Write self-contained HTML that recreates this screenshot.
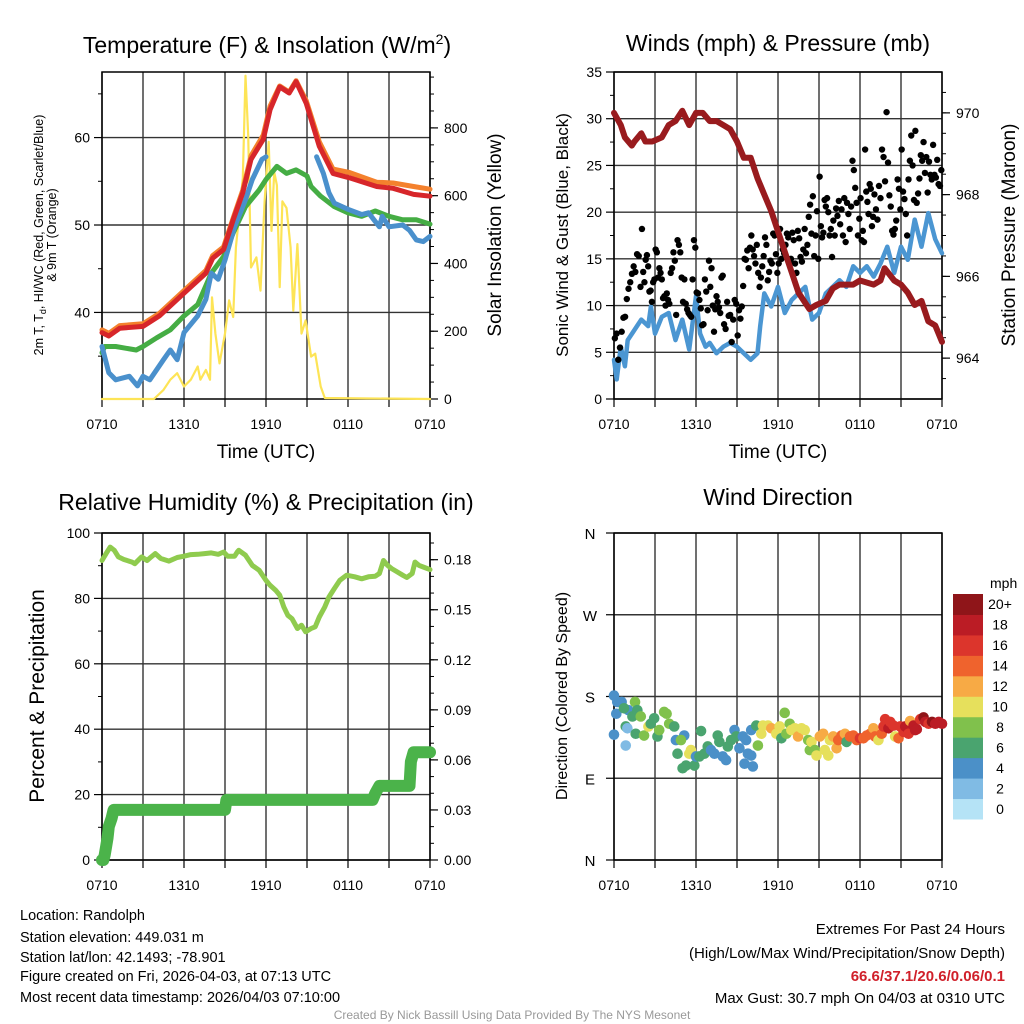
<!DOCTYPE html>
<html><head><meta charset="utf-8"><style>
html,body{margin:0;padding:0;background:#fff;}
svg{display:block;font-family:"Liberation Sans",Arial,sans-serif;}
</style></head><body>
<svg id="c" width="1024" height="1024" viewBox="0 0 1024 1024" xmlns="http://www.w3.org/2000/svg">
<text x="267" y="53" font-size="23" text-anchor="middle">Temperature (F) &amp; Insolation (W/m<tspan font-size="14" dy="-9">2</tspan><tspan dy="9">)</tspan></text>
<text x="778" y="51" font-size="23" text-anchor="middle">Winds (mph) &amp; Pressure (mb)</text>
<text x="266" y="510" font-size="23" text-anchor="middle">Relative Humidity (%) &amp; Precipitation (in)</text>
<text x="778" y="505" font-size="23" text-anchor="middle">Wind Direction</text>
<text x="266" y="458" font-size="19" text-anchor="middle">Time (UTC)</text>
<text x="778" y="458" font-size="19" text-anchor="middle">Time (UTC)</text>
<text transform="translate(43,235) rotate(-90)" font-size="12.5" text-anchor="middle">2m T, T<tspan font-size="9" dy="3">d</tspan><tspan dy="-3">, HI/WC (Red, Green, Scarlet/Blue)</tspan></text>
<text transform="translate(56,235) rotate(-90)" font-size="12.5" text-anchor="middle">&amp; 9m T (Orange)</text>
<text transform="translate(501,235) rotate(-90)" font-size="19" text-anchor="middle">Solar Insolation (Yellow)</text>
<text transform="translate(568,235) rotate(-90)" font-size="17" text-anchor="middle">Sonic Wind &amp; Gust (Blue, Black)</text>
<text transform="translate(1015,235) rotate(-90)" font-size="19" text-anchor="middle">Station Pressure (Maroon)</text>
<text transform="translate(44,696) rotate(-90)" font-size="21" text-anchor="middle">Percent &amp; Precipitation</text>
<text transform="translate(567,696) rotate(-90)" font-size="16" text-anchor="middle">Direction (Colored By Speed)</text>
<g font-size="14.5">
<text x="20" y="920">Location: Randolph</text>
<text x="20" y="942">Station elevation: 449.031 m</text>
<text x="20" y="962">Station lat/lon: 42.1493; -78.901</text>
<text x="20" y="981">Figure created on Fri, 2026-04-03, at 07:13 UTC</text>
<text x="20" y="1002">Most recent data timestamp: 2026/04/03 07:10:00</text>
</g>
<g font-size="15" text-anchor="end">
<text x="1005" y="934">Extremes For Past 24 Hours</text>
<text x="1005" y="958">(High/Low/Max Wind/Precipitation/Snow Depth)</text>
<text x="1005" y="981" fill="#d0202a" font-weight="bold">66.6/37.1/20.6/0.06/0.1</text>
<text x="1005" y="1003">Max Gust: 30.7 mph On 04/03 at 0310 UTC</text>
</g>
<text x="512" y="1019" font-size="12" fill="#999" text-anchor="middle">Created By Nick Bassill Using Data Provided By The NYS Mesonet</text>
<text x="990" y="588" font-size="14">mph</text>
</svg>
<script>
// ---------- DATA ----------
const xTickLabels = ["0710","1310","1910","0110","0710"];
const tempHours = [0,0.5,1.3,3,4.2,6,7.6,8.1,8.9,9.6,10.3,10.9,11.8,12.3,13,13.7,14.2,14.95,15.9,16.9,18.1,20.1,21.3,22.8,24];
const temp2m = [37.7,37.3,38.2,38.4,39.6,42.2,44.5,46.2,47.2,50.6,53.7,57.5,59.8,63.2,65.8,65.1,66.4,63.9,59.0,55.9,55.4,54.4,54.2,53.5,53.3];
const temp9m = [38.0,37.6,38.5,38.7,39.9,42.5,44.8,46.5,47.5,50.8,54.0,57.9,60.3,63.6,65.9,65.2,66.5,64.2,59.5,56.4,56.0,54.9,54.8,54.4,54.1];
const tdHours = [0,0.2,1,2.5,3,4,5,6,7,8,8.9,9.6,10.5,11.5,12,12.8,13.5,14.2,15,15.3,16,17,18,19,20,21,22,23,24];
const tdVals = [35.4,36.1,36.1,35.7,36.1,37.1,38.0,39.6,40.9,44.5,46.4,49.1,52.1,54.0,55.2,56.7,55.9,56.3,55.6,54.4,53.3,52.1,51.4,51.0,51.6,51.0,50.6,50.6,50.1];
const wcHours = [0,0.5,1,2,2.6,3,3.5,4.5,5,5.5,6,7,7.6,8,8.5,9,9.7,10.5,11,11.7,12,null,15.7,16.2,16.6,17,18,19,19.5,20.3,20.5,21,22,22.5,23,23.5,24];
const wcVals = [36.1,33.1,32.3,32.7,31.6,32.7,32.3,34.6,35.7,34.6,37.7,39.6,41.5,44.5,43.8,46.0,49.8,52.9,55.2,57.5,57.8,null,57.8,55.9,53.7,52.5,51.8,51.2,51.4,49.8,51.0,49.8,50.0,49.4,48.3,48.1,48.7];
const solarHours = [0,3.8,4.5,5,5.5,6,6.5,7,7.2,7.6,7.9,8.05,8.3,8.6,9,9.3,9.6,9.8,10.3,10.5,10.7,10.9,11.3,11.6,11.9,12.2,12.4,12.6,12.8,13,13.2,13.5,13.8,14,14.3,14.6,14.9,15.3,15.6,16,16.3,24];
const solarVals = [0,0,27,57,76,37,57,96,57,86,57,300,193,105,193,291,242,447,652,954,778,388,418,320,583,759,496,670,631,330,583,564,447,261,457,193,232,125,134,37,3,0];
const windHours = [0,0.2,0.5,0.8,1,1.5,2,2.5,2.7,3,3.5,4,4.5,5,5.5,6,6.3,6.7,7,7.5,8,8.5,9,9.5,10,10.5,10.7,11,11.5,12,12.5,13,13.5,14,14.5,15,15.5,16,16.5,17,17.5,18,18.5,19,19.5,20,20.5,21,21.5,22,22.5,23,23.5,24];
const windVals = [4.2,2.1,5.6,3.5,6.3,7.4,8.5,7.8,9.9,7.0,8.8,9.2,6.3,8.5,5.3,11.0,7.0,5.6,6.0,4.9,5.6,6.0,5.6,4.9,4.2,4.9,7.8,11.3,9.9,12.0,9.2,10.6,11.3,12.0,8.5,9.2,11.3,12.0,12.7,12.0,14.2,13.5,14.2,13.1,14.5,16.3,13.5,16.3,14.9,19.2,16.3,19.9,17.1,15.6];
const presHours = [0,0.5,0.8,1.3,1.5,2,2.3,2.8,3.5,4,4.5,5,5.5,6,6.5,7,7.5,8,8.5,9,9.5,10,10.5,11,11.5,12,12.5,13,13.5,14.3,14.8,15.5,16,16.5,17.5,18,19,19.5,19.8,20.5,21,21.5,22,22.5,23,23.5,24];
const presVals = [970.0,969.7,969.4,969.2,969.3,969.5,969.3,969.3,969.4,969.7,969.8,970.05,969.7,970.0,970.0,969.8,969.8,969.7,969.6,969.3,968.9,968.9,968.4,968.0,967.6,967.1,966.6,966.1,965.6,965.2,965.3,965.4,965.7,965.8,965.8,965.9,965.8,965.9,966.2,965.9,965.8,965.6,965.3,965.4,964.9,964.8,964.4];
const gustByHour = [
[6.5,7.0,4.2,5.5,7.2,8.7,8.8,10.7],
[11.8,12.5,13.4,14.2,13.6,15.5,15.3,12.0],
[18.2,13.6,12.5,14.9,15.4,14.2,11.5,11.6,10.4,12.5,12.8],
[16.0,15.7,13.0,14.0,13.5,12.8,10.8,11.0,10.0,11.3,10.6],
[10.2,13.5,14.0,15.7,14.8,9.0,17.0,16.5,15.7,13.0],
[10.4,12.8,10.2,9.6,9.2,9.0,8.8,12.8,17.0,16.2],
[11.4,11.3,10.6,9.7,7.9,8.0,12.8,11.5,9.5,14.8],
[12.0,14.0,10.0,7.2,9.6,11.0,10.4,9.8,9.2,13.0,13.2],
[8.0,7.5,10.4,8.9,9.0,6.1,8.5,10.6,10.2],
[6.8,9.5,8.6,9.9,12.1,15.0,14.9,15.9,14.0,16.2],
[17.5,16.0,15.3,14.5,16.5,13.5,12.0,13.0,14.2,15.3],
[17.3,16.5,12.7,13.6,14.8,14.5,17.7,17.5,15.5,13.5],
[14.5,18.2,15.0,16.0,15.6,16.5,17.7,17.3,14.7,15.0],
[17.8,17.0,14.5,13.5,18.0,17.2,15.2,14.7,16.0,18.2],
[15.6,16.5,19.5,20.8,17.7,21.7,15.3,17.5,20.1,15.0],
[23.8,18.5,17.3,17.8,21.3,20.6,21.5,20.0,17.5,18.2,15.2],
[19.1,17.5,20.4,19.6,21.2,18.7,20.3,17.5,21.5,16.8],
[21.0,19.8,18.2,20.6,25.5,24.5,22.6,21.0,17.5,19.3],
[21.5,17.0,18.0,16.8,26.7,22.2,21.1,19.8,23.0,22.5,18.5,19.5],
[21.9,20.3,19.2,22.8,21.5,26.7,25.9,23.3,30.7],
[25.3,21.8,20.6,18.0,17.6,18.2,19.1,23.5,22.5,20.3],
[26.7,22.2,21.4,19.8,17.5,23.5,25.5,28.2,25.0,21.3],
[28.7,21.0,22.0,23.6,26.1,25.5,27.5,24.2,25.9,22.1],
[25.4,24.0,23.5,27.2,24.0,23.7,25.6,23.0,22.8,24.5]];
const rhHours = [0,0.3,0.6,0.9,1.2,1.6,2.2,2.4,2.9,3.3,3.6,3.9,4.3,4.9,5.5,6,6.5,7,7.5,8,8.5,8.9,9.2,9.7,9.9,10,10.5,11,11.5,12,12.3,12.7,13,13.3,13.6,13.9,14.3,14.6,14.9,15.3,15.6,15.9,16.3,16.6,17,17.4,17.9,18.5,19,19.5,20,20.3,20.6,20.9,21.2,21.6,22,22.3,22.7,22.9,23.2,23.5,24];
const rhVals = [91.6,93.7,95.7,94.7,92.7,91.9,91.1,90.6,92.7,91.6,92.7,93.7,92.2,91.4,92.5,92.9,93.4,93.5,93.7,93.9,93.5,94.2,92.9,92.9,94.2,94.7,93.2,90.1,88.6,85.5,84.0,82.5,81.0,77.4,74.8,73.8,70.8,71.8,69.8,70.8,71.3,74.3,77.4,80.4,83.0,85.5,87.1,86.6,86.0,86.6,86.8,87.6,91.6,90.1,89.1,88.1,87.1,86.4,87.6,91.1,90.1,89.6,88.8];
const precipHours = [0,0.1,0.2,0.3,0.4,0.5,0.7,0.85,9.0,9.1,19.8,20.0,20.3,22.5,22.6,22.8,24];
const precipVals = [0,0,0.003,0.008,0.013,0.02,0.025,0.03,0.03,0.036,0.036,0.04,0.0444,0.0444,0.059,0.0646,0.0646];
const dirHours = [0,0.24,0.56,0.17,1.05,0.73,1.35,1.54,1.71,1.96,0.86,0.98,0,0.86,1.59,2.2,2.52,2.69,2.94,3.18,3.31,3.67,3.85,4.04,4.41,4.53,5.14,4.65,4.9,5.02,5.27,5.63,5.51,5.88,6.0,6.37,6.25,6.61,6.86,7.1,7.35,7.59,7.71,7.96,8.2,8.33,8.57,8.82,8.94,9.18,9.43,9.55,9.67,9.8,10.04,10.16,10.04,10.41,10.53,10.78,10.9,11.27,11.51,11.88,12.12,12.25,12.49,12.61,12.86,12.98,13.23,13.47,13.72,13.96,14.21,14.33,14.45,14.7,14.82,15.06,15.31,15.43,15.68,15.8,16.04,16.29,16.41,16.65,16.9,17.02,17.27,17.51,17.76,18.0,18.25,18.49,18.74,18.98,19.1,19.35,19.59,19.72,19.84,20.08,20.21,20.45,20.57,20.82,20.94,21.19,21.31,21.55,21.67,21.92,22.04,22.16,22.41,22.65,22.78,23.02,23.27,23.51,23.76,24.0];
const dirDegs = [181,174,174,161,165,167,158,174,165,158,147,145,138,126,139,137,147,150,156,136,143,163,161,150,147,132,137,117,132,101,104,121,117,104,114,142,114,117,125,121,117,137,130,114,110,125,132,143,136,123,136,106,132,117,115,103,143,148,126,139,148,148,145,139,147,134,162,139,150,143,145,136,145,143,132,121,130,121,115,136,139,121,115,132,136,123,132,137,139,130,136,137,132,134,134,137,139,145,136,132,139,147,155,145,152,148,136,134,147,141,147,139,153,148,143,144,155,157,152,150,152,150,152,150];
const dirSpeeds = [4,4,4,4,4,6,6,8,6,8,6,2,4,2,6,8,10,6,6,6,8,8,8,8,6,4,4,6,8,6,6,10,10,6,4,6,6,6,6,4,4,6,6,4,4,6,6,4,6,4,4,4,4,4,4,4,4,6,8,10,10,10,12,10,10,6,8,8,8,10,10,12,10,10,8,8,10,8,10,12,12,10,10,10,12,12,14,14,12,6,14,14,14,16,14,14,14,12,14,10,14,16,16,18,16,16,10,14,16,16,18,16,12,18,18,18,16,20,18,16,20,18,18,18];
const speedBins = ["0","2","4","6","8","10","12","14","16","18","20+"];
const binColors = ["#b5e3f6","#80bbe4","#4b90c8","#4aa46f","#80c14c","#e6e05c","#f7aa45","#ef632d","#dc352c","#bb1c25","#8f1519"];
// ---------- DRAW ----------
const NS="http://www.w3.org/2000/svg", svg=document.getElementById('c');
function el(tag,attrs,parent){const e=document.createElementNS(NS,tag);for(const k in attrs)e.setAttribute(k,attrs[k]);(parent||svg).appendChild(e);return e;}
function txt(s,x,y,size,anchor,parent){const t=el('text',{x:x,y:y,'font-size':size,'text-anchor':anchor},parent);t.textContent=s;return t;}
function lin(d0,d1,r0,r1){return v=>r0+(v-d0)*(r1-r0)/(d1-d0);}
function linePath(xs,ys,fx,fy){let d='',pen=false;for(let i=0;i<xs.length;i++){if(xs[i]===null||ys[i]===null){pen=false;continue;}d+=(pen?'L':'M')+fx(xs[i]).toFixed(1)+','+fy(ys[i]).toFixed(1);pen=true;}return d;}

function panel(name,X0,X1,Y0,Y1,leftAx,rightAx){
  const g=el('g',{});
  
  
  const fx=lin(0,24,X0,X1);
  for(let h=0;h<=24;h+=3){el('line',{x1:fx(h),x2:fx(h),y1:Y0,y2:Y1,stroke:'#333','stroke-width':1.4},g);el('line',{x1:fx(h),x2:fx(h),y1:Y1,y2:Y1+8,stroke:'#000','stroke-width':1.2},g);}
  xTickLabels.forEach((s,i)=>{const t=txt(s,fx(i*6),Y1+30,14,'middle',g);});
  const fl=lin(leftAx.min,leftAx.max,Y1,Y0);
  leftAx.major.forEach((v,i)=>{const y=fl(v);if(leftAx.grid)el('line',{x1:X0,x2:X1,y1:y,y2:y,stroke:'#333','stroke-width':1.4},g);el('line',{x1:X0-8,x2:X0,y1:y,y2:y,stroke:'#000','stroke-width':1.2},g);const t=txt(leftAx.labels[i],X0-12,y+5,14,'end',g);});
  (leftAx.minor||[]).forEach(v=>{const y=fl(v);el('line',{x1:X0-4,x2:X0,y1:y,y2:y,stroke:'#000','stroke-width':1},g);});
  let fr=null;
  if(rightAx){fr=lin(rightAx.min,rightAx.max,Y1,Y0);
    rightAx.major.forEach((v,i)=>{const y=fr(v);el('line',{x1:X1,x2:X1+8,y1:y,y2:y,stroke:'#000','stroke-width':1.2},g);const t=txt(rightAx.labels[i],X1+14,y+5,14,'start',g);});
    (rightAx.minor||[]).forEach(v=>{const y=fr(v);el('line',{x1:X1,x2:X1+4,y1:y,y2:y,stroke:'#000','stroke-width':1},g);});}
  el('rect',{x:X0,y:Y0,width:X1-X0,height:Y1-Y0,fill:'none',stroke:'#000','stroke-width':1.5},g);
  return {fx,fl,fr};
}
function range(a,b,s){const r=[];for(let v=a;v<=b+1e-9;v+=s)r.push(+v.toFixed(4));return r;}
function series(name,d,color,w){const p=el('path',{d:d,fill:'none',stroke:color,'stroke-width':w,'stroke-linejoin':'round','stroke-linecap':'round'});return p;}

// Panel 1
const p1=panel('temperature',102,430,72,399,{min:30.1,max:67.5,major:[40,50,60],labels:['40','50','60'],minor:[35,45,55,65],grid:true},{min:0,max:965,major:[0,200,400,600,800],labels:['0','200','400','600','800'],minor:range(50,950,50)});
series('solar-line',linePath(solarHours,solarVals,p1.fx,p1.fr),'#fde456',2.2);
series('dewpoint-line',linePath(tdHours,tdVals,p1.fx,p1.fl),'#45ad44',5);
series('windchill-line',linePath(wcHours,wcVals,p1.fx,p1.fl),'#4a90cc',5);
series('temp-9m-line',linePath(tempHours,temp9m,p1.fx,p1.fl),'#f4812d',5);
series('temp-2m-line',linePath(tempHours,temp2m,p1.fx,p1.fl),'#d7262a',5);

// Panel 2
const p2=panel('winds',614,942,72,399,{min:0,max:35,major:[0,5,10,15,20,25,30,35],labels:['0','5','10','15','20','25','30','35'],minor:range(2.5,32.5,5),grid:true},{min:963.0,max:971.0,major:[964,966,968,970],labels:['964','966','968','970'],minor:range(963.5,970.5,0.5)});
series('sonic-wind-line',linePath(windHours,windVals,p2.fx,p2.fl),'#4b96d2',4.5);
const gg=el('g',{});


gustByHour.forEach((arr,h)=>arr.forEach((v,i)=>{const c=el('circle',{cx:p2.fx(h+(i+0.5)/arr.length),cy:p2.fl(v),r:3.2,fill:'#000'},gg);}));
series('pressure-line',linePath(presHours,presVals,p2.fx,p2.fr),'#991b1e',6);

// Panel 3
const p3=panel('humidity',102,430,533,860,{min:0,max:100,major:[0,20,40,60,80,100],labels:['0','20','40','60','80','100'],minor:range(10,90,20),grid:true},{min:0,max:0.196,major:[0,0.03,0.06,0.09,0.12,0.15,0.18],labels:['0.00','0.03','0.06','0.09','0.12','0.15','0.18'],minor:range(0.01,0.19,0.01)});
series('rh-line',linePath(rhHours,rhVals,p3.fx,p3.fl),'#8fcb4e',5);
series('precip-line',linePath(precipHours,precipVals,p3.fx,p3.fr),'#4bb34a',12);

// Panel 4
const dirLabels=['N','E','S','W','N'];
const p4=panel('wind-direction',614,942,533,860,{min:0,max:360,major:[0,90,180,270,360],labels:['','','','',''],grid:true},null);
dirLabels.forEach((s,i)=>{const t=txt(s,590,p4.fl(i*90)+6,15,'middle');});
const dg=el('g',{});


dirHours.forEach((h,i)=>{const b=Math.min(10,Math.round(dirSpeeds[i]/2));const c=el('circle',{cx:p4.fx(h),cy:p4.fl(dirDegs[i]),r:5.3,fill:binColors[b]},dg);});
// colorbar
const cb=el('g',{});


const cbY=lin(0,11,819,594);
speedBins.forEach((s,i)=>{el('rect',{x:953,y:cbY(i+1),width:30,height:cbY(i)-cbY(i+1)+0.5,fill:binColors[i]},cb);const t=txt(s,1000,cbY(i+0.5)+5,14,'middle',cb);});
</script>
</body></html>
